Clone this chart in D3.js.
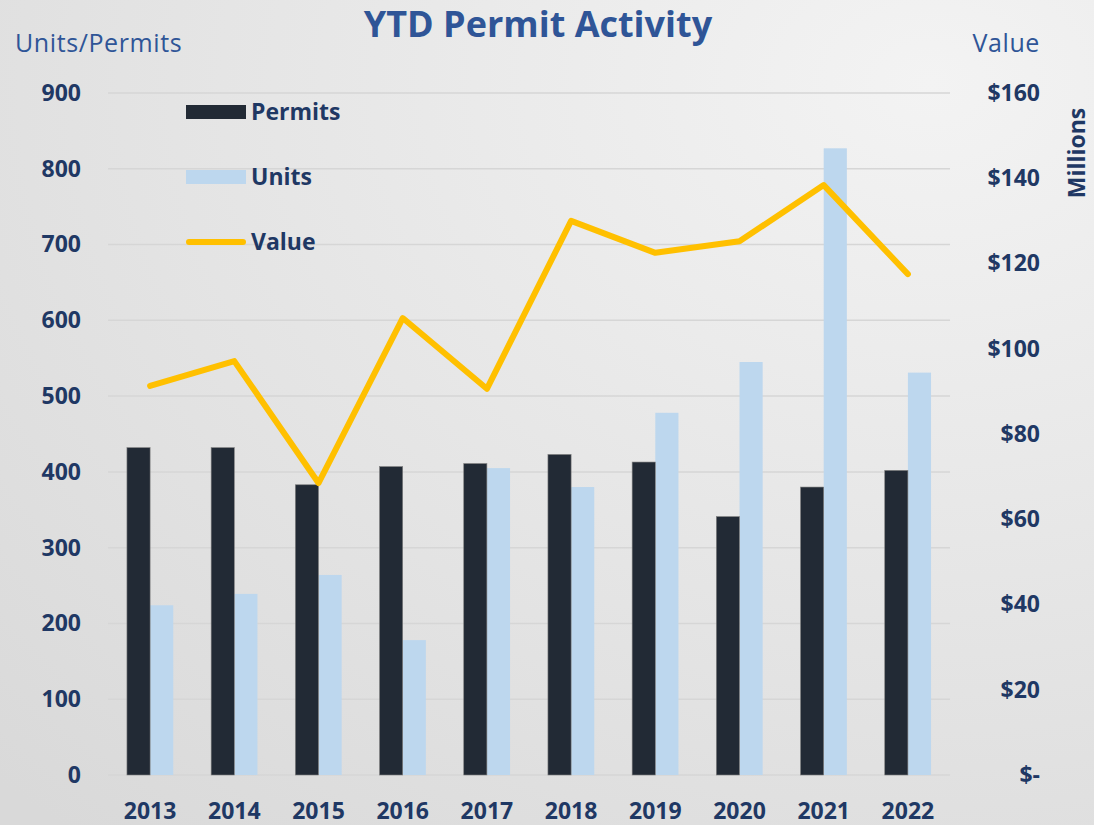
<!DOCTYPE html>
<html>
<head>
<meta charset="utf-8">
<script src="https://cdn.jsdelivr.net/npm/d3@7"></script>
<style>
  body { margin: 0; background: #e6e6e6; }
  svg { display: block; }
</style>
</head>
<body>
<div id="chart"></div>
<script>
// Daten
const years = ["2013", "2014", "2015", "2016", "2017", "2018", "2019", "2020", "2021", "2022"];
const permits = [432, 432, 383, 407, 411, 423, 413, 341, 380, 402];
const units = [224, 239, 264, 178, 405, 380, 478, 545, 827, 531];
const valueMillions = [91.3, 97.1, 68.5, 107.2, 90.6, 130.0, 122.5, 125.2, 138.4, 117.5];
const leftTicks = [0, 100, 200, 300, 400, 500, 600, 700, 800, 900];
const rightTicks = [0, 20, 40, 60, 80, 100, 120, 140, 160];

const width = 1094, height = 825;
const margin = { top: 93, right: 144, bottom: 50, left: 108 };
const navy = "#1f3864";
const blue = "#2f5597";
const font = "'Open Sans', sans-serif";

const svg = d3.select("#chart").append("svg")
  .attr("width", width)
  .attr("height", height);

// Hintergrund mit leichtem Verlauf
const defs = svg.append("defs");
const grad = defs.append("radialGradient")
  .attr("id", "bg")
  .attr("cx", "85%").attr("cy", "10%").attr("r", "120%");
grad.append("stop").attr("offset", "0%").attr("stop-color", "#f3f3f3");
grad.append("stop").attr("offset", "100%").attr("stop-color", "#d9d9d9");
svg.append("rect")
  .attr("width", width).attr("height", height)
  .attr("fill", "url(#bg)");

// Skalen
const x = d3.scaleBand()
  .domain(years)
  .range([margin.left, width - margin.right])
  .paddingInner(0)
  .paddingOuter(0);

const inner = d3.scaleBand()
  .domain(["permits", "units"])
  .range([x.bandwidth() * 0.225, x.bandwidth() * 0.775]);

const y = d3.scaleLinear()
  .domain([0, 900])
  .range([height - margin.bottom, margin.top]);

const y2 = d3.scaleLinear()
  .domain([0, 160])
  .range([height - margin.bottom, margin.top]);

// Gitterlinien
svg.append("g")
  .selectAll("line")
  .data(leftTicks)
  .join("line")
  .attr("x1", margin.left)
  .attr("x2", width - margin.right)
  .attr("y1", d => y(d))
  .attr("y2", d => y(d))
  .attr("stroke", "#d6d6d6")
  .attr("stroke-width", 1.5);

// Balken
const groups = svg.append("g")
  .selectAll("g")
  .data(years.map((yr, i) => ({ year: yr, permits: permits[i], units: units[i] })))
  .join("g")
  .attr("transform", d => `translate(${x(d.year)},0)`);

groups.append("rect")
  .attr("x", inner("units"))
  .attr("width", inner.bandwidth())
  .attr("y", d => y(d.units))
  .attr("height", d => y(0) - y(d.units))
  .attr("fill", "#bdd7ee");

groups.append("rect")
  .attr("x", inner("permits"))
  .attr("width", inner.bandwidth())
  .attr("y", d => y(d.permits))
  .attr("height", d => y(0) - y(d.permits))
  .attr("fill", "#222a35")
  .attr("stroke", "#7f7f7f")
  .attr("stroke-width", 0.6);

// Linie (Wert)
const line = d3.line()
  .x((d, i) => x(years[i]) + x.bandwidth() / 2)
  .y(d => y2(d));

svg.append("path")
  .datum(valueMillions)
  .attr("d", line)
  .attr("fill", "none")
  .attr("stroke", "#ffc000")
  .attr("stroke-width", 6)
  .attr("stroke-linejoin", "round")
  .attr("stroke-linecap", "round");

// Linke Achse
const yAxis = svg.append("g")
  .attr("transform", `translate(${margin.left - 27},0)`)
  .call(d3.axisLeft(y).tickValues(leftTicks).tickSize(0).tickPadding(0));
yAxis.select(".domain").remove();
yAxis.selectAll("text")
  .attr("fill", navy)
  .style("font-family", font)
  .style("font-weight", "bold")
  .style("font-size", "23px");

// Rechte Achse
const y2Axis = svg.append("g")
  .attr("transform", `translate(${width - 54},0)`)
  .call(d3.axisLeft(y2).tickValues(rightTicks).tickSize(0).tickPadding(0)
    .tickFormat(d => d === 0 ? "$-" : "$" + d));
y2Axis.select(".domain").remove();
y2Axis.selectAll("text")
  .attr("fill", navy)
  .style("font-family", font)
  .style("font-weight", "bold")
  .style("font-size", "23px");

// X-Achse
const xAxis = svg.append("g")
  .attr("transform", `translate(0,${height - margin.bottom})`)
  .call(d3.axisBottom(x).tickSize(0).tickPadding(0));
xAxis.select(".domain").remove();
xAxis.selectAll("text")
  .attr("fill", navy)
  .attr("y", 44)
  .attr("dy", 0)
  .style("font-family", font)
  .style("font-weight", "bold")
  .style("font-size", "23px");

// Titel
svg.append("text")
  .attr("x", 538)
  .attr("y", 37)
  .attr("text-anchor", "middle")
  .attr("fill", blue)
  .style("font-family", font)
  .style("font-weight", "bold")
  .style("font-size", "36px")
  .text("YTD Permit Activity");

// Achsentitel
svg.append("text")
  .attr("x", 15)
  .attr("y", 52)
  .attr("fill", blue)
  .style("font-family", font)
  .style("font-size", "25px")
  .style("letter-spacing", "0.6px")
  .text("Units/Permits");

svg.append("text")
  .attr("x", 1040)
  .attr("y", 52)
  .attr("text-anchor", "end")
  .attr("fill", blue)
  .style("font-family", font)
  .style("font-size", "25px")
  .style("letter-spacing", "0.6px")
  .text("Value");

svg.append("text")
  .attr("transform", "translate(1085,153) rotate(-90)")
  .attr("text-anchor", "middle")
  .attr("fill", navy)
  .style("font-family", font)
  .style("font-weight", "bold")
  .style("font-size", "23px")
  .text("Millions");

// Legende
const legendItems = [
  { label: "Permits", type: "rect", color: "#222a35", y: 112 },
  { label: "Units", type: "rect", color: "#bdd7ee", y: 177 },
  { label: "Value", type: "line", color: "#ffc000", y: 242 }
];

const legend = svg.append("g");
legendItems.forEach(d => {
  if (d.type === "rect") {
    legend.append("rect")
      .attr("x", 186).attr("y", d.y - 7)
      .attr("width", 60).attr("height", 14)
      .attr("fill", d.color);
  } else {
    legend.append("line")
      .attr("x1", 189).attr("x2", 243)
      .attr("y1", d.y).attr("y2", d.y)
      .attr("stroke", d.color)
      .attr("stroke-width", 6)
      .attr("stroke-linecap", "round");
  }
  legend.append("text")
    .attr("x", 251)
    .attr("y", d.y)
    .attr("dy", "0.35em")
    .attr("fill", navy)
    .style("font-family", font)
    .style("font-weight", "bold")
    .style("font-size", "23px")
    .text(d.label);
});
</script>
</body>
</html>
